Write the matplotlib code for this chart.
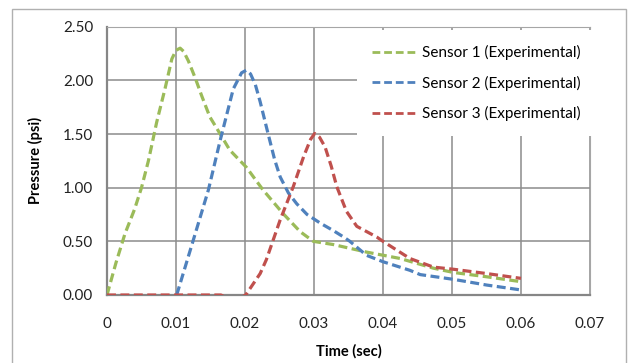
import matplotlib
matplotlib.use("Agg")
import matplotlib.pyplot as plt
from matplotlib.patches import Rectangle

plt.rcParams['font.family'] = ['Lato', 'DejaVu Sans']

# ---- data ----
s1_t = [0, 0.0013, 0.0026, 0.004, 0.005, 0.006, 0.0072, 0.0084, 0.0094, 0.0100, 0.0106,
        0.0111, 0.0118, 0.0128, 0.0137, 0.0149, 0.0165, 0.0178, 0.0202, 0.0226, 0.0255,
        0.028, 0.0299, 0.0328, 0.0376, 0.0425, 0.0473, 0.0502, 0.055, 0.06]
s1_v = [0, 0.30, 0.57, 0.80, 1.00, 1.25, 1.61, 1.92, 2.20, 2.28, 2.30,
        2.27, 2.18, 2.02, 1.86, 1.66, 1.49, 1.35, 1.19, 0.98, 0.76,
        0.59, 0.50, 0.47, 0.40, 0.34, 0.25, 0.21, 0.17, 0.124]

s2_t = [0.0101, 0.0125, 0.0147, 0.0164, 0.0183, 0.0195, 0.0202, 0.0208, 0.0215, 0.0222,
        0.0232, 0.0243, 0.0251, 0.0263, 0.0275, 0.029, 0.0309, 0.0328, 0.0343,
        0.0352, 0.0376, 0.040, 0.0439, 0.0454, 0.0502, 0.055, 0.060]
s2_v = [0, 0.51, 0.98, 1.44, 1.92, 2.07, 2.095, 2.06, 1.96, 1.80,
        1.54, 1.26, 1.10, 0.95, 0.85, 0.75, 0.67, 0.60, 0.54,
        0.50, 0.37, 0.31, 0.23, 0.19, 0.146, 0.093, 0.047]

s3_t = [0, 0.005, 0.01, 0.0165, 0.018, 0.0195, 0.0201, 0.0222, 0.0231, 0.0251,
        0.027, 0.0285, 0.0295, 0.0301, 0.0308, 0.0316, 0.0325, 0.0333, 0.0347, 0.0362,
        0.0391, 0.040, 0.0439, 0.0473, 0.0502, 0.055, 0.060]
s3_v = [0, 0, 0, 0, -0.04, -0.02, 0, 0.20, 0.33, 0.70,
        1.01, 1.29, 1.45, 1.505, 1.47, 1.38, 1.20, 1.01, 0.78, 0.64,
        0.54, 0.50, 0.34, 0.26, 0.24, 0.20, 0.155]

labels = ['Sensor 1 (Experimental)', 'Sensor 2 (Experimental)', 'Sensor 3 (Experimental)']
colors = ['#9BBB59', '#4F81BD', '#C0504D']
x_ticks = [0, 0.01, 0.02, 0.03, 0.04, 0.05, 0.06, 0.07]
x_ticklabels = ['0', '0.01', '0.02', '0.03', '0.04', '0.05', '0.06', '0.07']
y_ticks = [0, 0.5, 1.0, 1.5, 2.0, 2.5]
y_ticklabels = ['0.00', '0.50', '1.00', '1.50', '2.00', '2.50']

W, H = 628, 363
fig = plt.figure(figsize=(W / 100, H / 100), dpi=100)
fig.patch.set_facecolor('white')

# outer chart border
fig.patches.append(Rectangle((11.7 / W, -0.05), (626 - 11.7) / W, 1.05 - 9.3 / H,
                             transform=fig.transFigure, fill=False,
                             edgecolor='#b0b0b0', linewidth=1.0))

ax = fig.add_axes([107 / W, (H - 295) / H, (590 - 107) / W, (295 - 26.7) / H])
ax.set_xlim(0, 0.07)
ax.set_ylim(0, 2.5)

grid_col = '#8c8c8c'
ax.set_xticks(x_ticks)
ax.set_xticklabels(x_ticklabels)
ax.set_yticks(y_ticks)
ax.set_yticklabels(y_ticklabels)
ax.grid(True, color=grid_col, linewidth=1.1, zorder=0)
ax.set_axisbelow(True)
for side in ['top', 'right']:
    ax.spines[side].set_color('#a6a6a6')
    ax.spines[side].set_linewidth(0.8)
for side in ['left', 'bottom']:
    ax.spines[side].set_color('#868686')
    ax.spines[side].set_linewidth(1.6)

ax.tick_params(axis='both', length=0, labelsize=11, colors='#222222')
ax.tick_params(axis='x', pad=16)
ax.tick_params(axis='y', pad=10)

series = [(s1_t, s1_v), (s2_t, s2_v), (s3_t, s3_v)]
for (t, v), lab, c in zip(series, labels, colors):
    ax.plot(t, v, color=c, linewidth=2.3, linestyle=(0, (2.8, 1.4)),
            label=lab, zorder=3, solid_capstyle='butt')

ax.set_xlabel('Time (sec)', fontsize=10.5, fontweight='bold', labelpad=9)
ax.set_ylabel('Pressure (psi)', fontsize=10.5, fontweight='bold', labelpad=14)

leg = ax.legend(loc='upper left', bbox_to_anchor=(0.517, 0.988), borderaxespad=0,
                frameon=True, fancybox=False, fontsize=11, handlelength=2.95,
                handletextpad=0.3, labelspacing=1.0, borderpad=1.0)
leg.get_frame().set_facecolor('white')
leg.get_frame().set_edgecolor('none')
leg.get_frame().set_alpha(1)
leg.set_zorder(5)
for line in leg.get_lines():
    line.set_linewidth(2.0)

fig.savefig('out.png', dpi=100, facecolor='white')
